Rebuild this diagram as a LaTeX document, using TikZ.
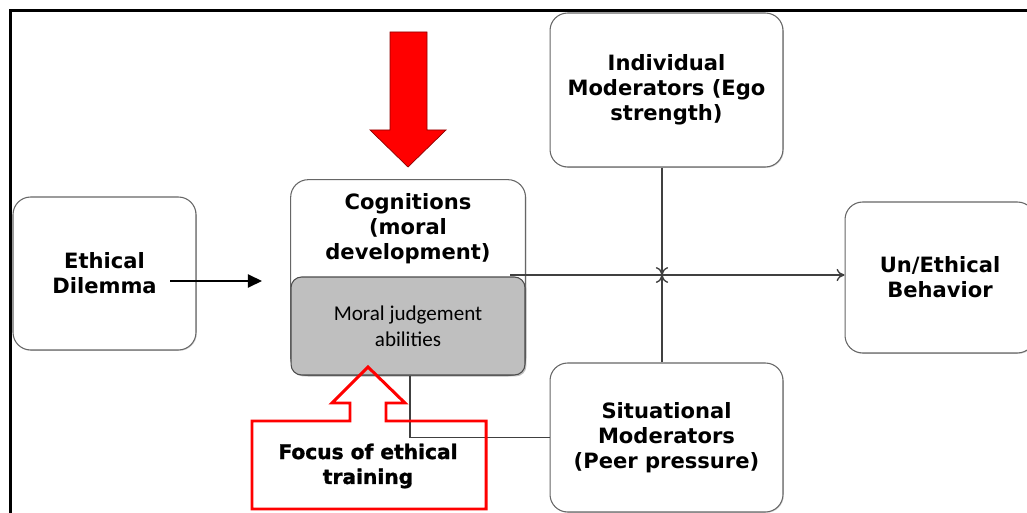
\documentclass[tikz,border=0pt]{standalone}
\usepackage{fontspec}
\setmainfont{DejaVu Sans}
\newfontfamily\judgefont{Carlito}
\newfontfamily\heavyfont[FakeBold=1.4]{DejaVu Sans Bold}
\usepackage{xcolor}
\usetikzlibrary{arrows.meta,positioning,shadows,backgrounds}
\tikzset{
  box/.style={draw=black!60, line width=0.6pt, rounded corners=10pt, fill=white, align=center,
    inner sep=0pt, font=\bfseries\fontsize{12}{14.2}\selectfont,
    drop shadow={shadow xshift=0.5pt, shadow yshift=-0.5pt, opacity=0.3}},
  judgebox/.style={draw=black!70, line width=0.6pt, rounded corners=6pt, fill=black!25, align=center,
    inner sep=0pt, font=\judgefont\fontsize{12}{14.8}\selectfont,
    drop shadow={shadow xshift=0.8pt, shadow yshift=-0.8pt, opacity=0.5}},
  link/.style={-{To[length=4.5pt,width=7pt]}, line width=0.8pt, black!75},
  plain/.style={line width=0.7pt, black!75},
  inflow/.style={-{Triangle[length=8pt,width=7.5pt]}, line width=0.8pt, black},
  redarrow/.style={fill=red, draw=red!55!black, line width=0.4pt},
  focusline/.style={draw=red, line width=1.7pt},
}

\begin{document}
\begin{tikzpicture}[x=0.02cm, y=-0.02cm]
\useasboundingbox (0,0) rectangle (1027,513);
% --- outer frame (top and left edges only) ---
\draw[line width=1.7pt] (10.5,513) -- (10.5,10.5) -- (1027,10.5);

% --- boxes ---
\node[box, minimum width=3.66cm, minimum height=3.06cm] (dilemma) at (104.5,273.5) {Ethical\\Dilemma};
\node[box, minimum width=4.66cm, minimum height=3.08cm] (indiv) at (666.5,90) {Individual\\Moderators (Ego\\strength)};
\node[box, minimum width=4.66cm, minimum height=2.98cm] (situ) at (666.5,437.5) {Situational\\Moderators\\(Peer pressure)};
\node[box, minimum width=3.8cm, minimum height=3.02cm] (behav) at (940,277.5) {Un/Ethical\\Behavior};
\node[align=center, inner sep=0pt, font=\bfseries\fontsize{12}{14.2}\selectfont,
  minimum width=4.68cm, minimum height=1.96cm] (cog) at (408,229) {Cognitions\\(moral\\development)};
\node[judgebox, minimum width=4.68cm, minimum height=1.96cm] (judge) at (408,326) {Moral judgement\\abilities};
\begin{scope}[on background layer]
  \draw[box] (cog.north west) rectangle (judge.south east);
\end{scope}

% --- connectors ---
\coordinate (dilout) at (170,281);
\coordinate (cogin) at (262,281);
\coordinate (cogout) at (510,275);
\coordinate (cross) at (662,275);
\draw[inflow] (dilout) -- (cogin);
\draw[link] (cogout) -- (cogout -| behav.west);
\draw[link] (indiv.south -| cross) -- (cross);
\draw[link] (situ.north -| cross) -- (cross);
\draw[plain] ([xshift=0.04cm]judge.south) |- (situ.west);

% --- big red arrow onto cognitions ---
\draw[redarrow] (390,32) -- (427,32) -- (427,130) -- (446,130) -- (408,167) -- (370,130) -- (390,130) -- cycle;

% --- training callout ---
\draw[focusline] (252,509) -- (252,421) -- (350,421) -- (350,403) -- (332,403) -- (368,367)
  -- (405,403) -- (386,403) -- (386,421) -- (486,421) -- (486,509) -- cycle;
\node[align=center, inner sep=0pt, font=\heavyfont\fontsize{11.5}{14.2}\selectfont] (focus) at (368,466) {Focus of ethical\\training};
\end{tikzpicture}
\end{document}
